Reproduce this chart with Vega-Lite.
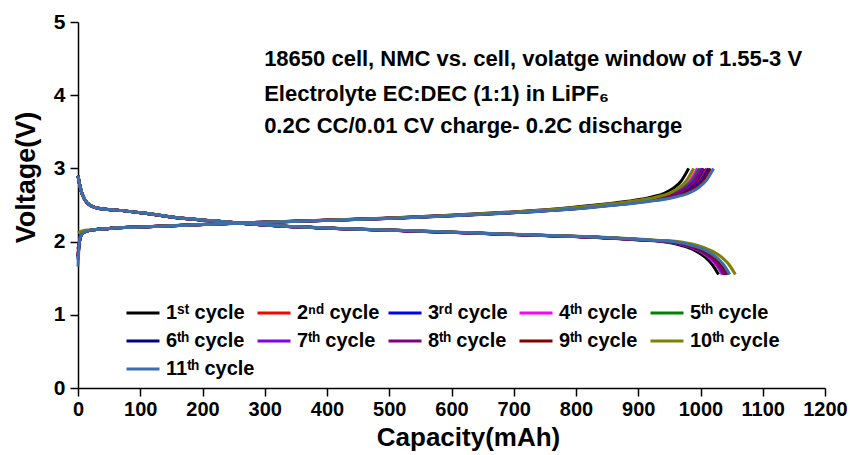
{
"$schema": "https://vega.github.io/schema/vega-lite/v6.json",
"width": 747, "height": 366,
"autosize": {"type": "none"},
"padding": {"left": 78, "top": 22, "right": 25, "bottom": 67},
"background": "white",
"config": {"view": {"stroke": null}, "font": "Liberation Sans",
  "axis": {"grid": false, "domain": true, "domainColor": "#000000", "domainWidth": 1.5, "ticks": true, "tickColor": "#000000", "tickWidth": 1.5, "tickSize": 8, "labelColor": "black", "titleColor": "black", "labelFont": "Liberation Sans", "titleFont": "Liberation Sans", "labelFontWeight": "bold", "titleFontWeight": "bold"}},
"data": {"values": [
{"n":1,"s":"c","x":0,"y":1.9},{"n":1,"s":"c","x":2,"y":1.98},{"n":1,"s":"c","x":3.9,"y":2.07},{"n":1,"s":"c","x":7.8,"y":2.12},{"n":1,"s":"c","x":19.6,"y":2.155},{"n":1,"s":"c","x":49.1,"y":2.18},{"n":1,"s":"c","x":98.1,"y":2.2},{"n":1,"s":"c","x":196.2,"y":2.235},{"n":1,"s":"c","x":294.3,"y":2.265},{"n":1,"s":"c","x":392.4,"y":2.29},{"n":1,"s":"c","x":490.5,"y":2.32},{"n":1,"s":"c","x":588.6,"y":2.355},{"n":1,"s":"c","x":686.7,"y":2.4},{"n":1,"s":"c","x":784.8,"y":2.46},{"n":1,"s":"c","x":843.7,"y":2.51},{"n":1,"s":"c","x":882.9,"y":2.55},{"n":1,"s":"c","x":922.1,"y":2.61},{"n":1,"s":"c","x":941.8,"y":2.66},{"n":1,"s":"c","x":956.5,"y":2.73},{"n":1,"s":"c","x":969.2,"y":2.83},{"n":1,"s":"c","x":981,"y":3},
{"n":1,"s":"d","x":0,"y":2.9},{"n":1,"s":"d","x":2.1,"y":2.8},{"n":1,"s":"d","x":5.1,"y":2.69},{"n":1,"s":"d","x":10.3,"y":2.58},{"n":1,"s":"d","x":20.6,"y":2.49},{"n":1,"s":"d","x":36,"y":2.45},{"n":1,"s":"d","x":61.7,"y":2.43},{"n":1,"s":"d","x":102.9,"y":2.39},{"n":1,"s":"d","x":154.4,"y":2.33},{"n":1,"s":"d","x":205.8,"y":2.29},{"n":1,"s":"d","x":308.7,"y":2.22},{"n":1,"s":"d","x":411.6,"y":2.18},{"n":1,"s":"d","x":514.5,"y":2.15},{"n":1,"s":"d","x":617.4,"y":2.12},{"n":1,"s":"d","x":720.3,"y":2.09},{"n":1,"s":"d","x":823.2,"y":2.06},{"n":1,"s":"d","x":905.5,"y":2.02},{"n":1,"s":"d","x":946.7,"y":1.99},{"n":1,"s":"d","x":972.4,"y":1.94},{"n":1,"s":"d","x":993,"y":1.87},{"n":1,"s":"d","x":1008.4,"y":1.78},{"n":1,"s":"d","x":1018.7,"y":1.69},{"n":1,"s":"d","x":1029,"y":1.55},
{"n":2,"s":"c","x":0,"y":1.8},{"n":2,"s":"c","x":2,"y":1.98},{"n":2,"s":"c","x":4,"y":2.07},{"n":2,"s":"c","x":8.1,"y":2.12},{"n":2,"s":"c","x":20.2,"y":2.155},{"n":2,"s":"c","x":50.5,"y":2.18},{"n":2,"s":"c","x":101,"y":2.2},{"n":2,"s":"c","x":202,"y":2.235},{"n":2,"s":"c","x":303,"y":2.265},{"n":2,"s":"c","x":404,"y":2.29},{"n":2,"s":"c","x":505,"y":2.32},{"n":2,"s":"c","x":606,"y":2.355},{"n":2,"s":"c","x":707,"y":2.4},{"n":2,"s":"c","x":808,"y":2.46},{"n":2,"s":"c","x":868.6,"y":2.51},{"n":2,"s":"c","x":909,"y":2.55},{"n":2,"s":"c","x":949.4,"y":2.61},{"n":2,"s":"c","x":969.6,"y":2.66},{"n":2,"s":"c","x":984.8,"y":2.73},{"n":2,"s":"c","x":997.9,"y":2.83},{"n":2,"s":"c","x":1010,"y":3},
{"n":2,"s":"d","x":0,"y":2.9},{"n":2,"s":"d","x":2.1,"y":2.8},{"n":2,"s":"d","x":5.2,"y":2.69},{"n":2,"s":"d","x":10.4,"y":2.58},{"n":2,"s":"d","x":20.8,"y":2.49},{"n":2,"s":"d","x":36.4,"y":2.45},{"n":2,"s":"d","x":62.4,"y":2.43},{"n":2,"s":"d","x":104,"y":2.39},{"n":2,"s":"d","x":156,"y":2.33},{"n":2,"s":"d","x":208,"y":2.29},{"n":2,"s":"d","x":312,"y":2.22},{"n":2,"s":"d","x":416,"y":2.18},{"n":2,"s":"d","x":520,"y":2.15},{"n":2,"s":"d","x":624,"y":2.12},{"n":2,"s":"d","x":728,"y":2.09},{"n":2,"s":"d","x":832,"y":2.06},{"n":2,"s":"d","x":915.2,"y":2.02},{"n":2,"s":"d","x":956.8,"y":1.99},{"n":2,"s":"d","x":982.8,"y":1.94},{"n":2,"s":"d","x":1003.6,"y":1.87},{"n":2,"s":"d","x":1019.2,"y":1.78},{"n":2,"s":"d","x":1029.6,"y":1.69},{"n":2,"s":"d","x":1040,"y":1.55},
{"n":3,"s":"c","x":0,"y":1.75},{"n":3,"s":"c","x":2,"y":1.98},{"n":3,"s":"c","x":4.1,"y":2.07},{"n":3,"s":"c","x":8.1,"y":2.12},{"n":3,"s":"c","x":20.3,"y":2.155},{"n":3,"s":"c","x":50.7,"y":2.18},{"n":3,"s":"c","x":101.3,"y":2.2},{"n":3,"s":"c","x":202.6,"y":2.235},{"n":3,"s":"c","x":303.9,"y":2.265},{"n":3,"s":"c","x":405.2,"y":2.29},{"n":3,"s":"c","x":506.5,"y":2.32},{"n":3,"s":"c","x":607.8,"y":2.355},{"n":3,"s":"c","x":709.1,"y":2.4},{"n":3,"s":"c","x":810.4,"y":2.46},{"n":3,"s":"c","x":871.2,"y":2.51},{"n":3,"s":"c","x":911.7,"y":2.55},{"n":3,"s":"c","x":952.2,"y":2.61},{"n":3,"s":"c","x":972.5,"y":2.66},{"n":3,"s":"c","x":987.7,"y":2.73},{"n":3,"s":"c","x":1000.8,"y":2.83},{"n":3,"s":"c","x":1013,"y":3},
{"n":3,"s":"d","x":0,"y":2.9},{"n":3,"s":"d","x":2.1,"y":2.8},{"n":3,"s":"d","x":5.2,"y":2.69},{"n":3,"s":"d","x":10.4,"y":2.58},{"n":3,"s":"d","x":20.8,"y":2.49},{"n":3,"s":"d","x":36.5,"y":2.45},{"n":3,"s":"d","x":62.5,"y":2.43},{"n":3,"s":"d","x":104.2,"y":2.39},{"n":3,"s":"d","x":156.3,"y":2.33},{"n":3,"s":"d","x":208.4,"y":2.29},{"n":3,"s":"d","x":312.6,"y":2.22},{"n":3,"s":"d","x":416.8,"y":2.18},{"n":3,"s":"d","x":521,"y":2.15},{"n":3,"s":"d","x":625.2,"y":2.12},{"n":3,"s":"d","x":729.4,"y":2.09},{"n":3,"s":"d","x":833.6,"y":2.06},{"n":3,"s":"d","x":917,"y":2.02},{"n":3,"s":"d","x":958.6,"y":1.99},{"n":3,"s":"d","x":984.7,"y":1.94},{"n":3,"s":"d","x":1005.5,"y":1.87},{"n":3,"s":"d","x":1021.2,"y":1.78},{"n":3,"s":"d","x":1031.6,"y":1.69},{"n":3,"s":"d","x":1042,"y":1.55},
{"n":4,"s":"c","x":0,"y":1.85},{"n":4,"s":"c","x":2,"y":1.98},{"n":4,"s":"c","x":4,"y":2.07},{"n":4,"s":"c","x":8,"y":2.12},{"n":4,"s":"c","x":19.9,"y":2.155},{"n":4,"s":"c","x":49.8,"y":2.18},{"n":4,"s":"c","x":99.5,"y":2.2},{"n":4,"s":"c","x":199,"y":2.235},{"n":4,"s":"c","x":298.5,"y":2.265},{"n":4,"s":"c","x":398,"y":2.29},{"n":4,"s":"c","x":497.5,"y":2.32},{"n":4,"s":"c","x":597,"y":2.355},{"n":4,"s":"c","x":696.5,"y":2.4},{"n":4,"s":"c","x":796,"y":2.46},{"n":4,"s":"c","x":855.7,"y":2.51},{"n":4,"s":"c","x":895.5,"y":2.55},{"n":4,"s":"c","x":935.3,"y":2.61},{"n":4,"s":"c","x":955.2,"y":2.66},{"n":4,"s":"c","x":970.1,"y":2.73},{"n":4,"s":"c","x":983.1,"y":2.83},{"n":4,"s":"c","x":995,"y":3},
{"n":4,"s":"d","x":0,"y":2.9},{"n":4,"s":"d","x":2.1,"y":2.8},{"n":4,"s":"d","x":5.2,"y":2.69},{"n":4,"s":"d","x":10.4,"y":2.58},{"n":4,"s":"d","x":20.7,"y":2.49},{"n":4,"s":"d","x":36.2,"y":2.45},{"n":4,"s":"d","x":62.1,"y":2.43},{"n":4,"s":"d","x":103.5,"y":2.39},{"n":4,"s":"d","x":155.3,"y":2.33},{"n":4,"s":"d","x":207,"y":2.29},{"n":4,"s":"d","x":310.5,"y":2.22},{"n":4,"s":"d","x":414,"y":2.18},{"n":4,"s":"d","x":517.5,"y":2.15},{"n":4,"s":"d","x":621,"y":2.12},{"n":4,"s":"d","x":724.5,"y":2.09},{"n":4,"s":"d","x":828,"y":2.06},{"n":4,"s":"d","x":910.8,"y":2.02},{"n":4,"s":"d","x":952.2,"y":1.99},{"n":4,"s":"d","x":978.1,"y":1.94},{"n":4,"s":"d","x":998.8,"y":1.87},{"n":4,"s":"d","x":1014.3,"y":1.78},{"n":4,"s":"d","x":1024.7,"y":1.69},{"n":4,"s":"d","x":1035,"y":1.55},
{"n":5,"s":"c","x":0,"y":1.8},{"n":5,"s":"c","x":2,"y":1.98},{"n":5,"s":"c","x":4,"y":2.07},{"n":5,"s":"c","x":8,"y":2.12},{"n":5,"s":"c","x":20,"y":2.155},{"n":5,"s":"c","x":49.9,"y":2.18},{"n":5,"s":"c","x":99.8,"y":2.2},{"n":5,"s":"c","x":199.6,"y":2.235},{"n":5,"s":"c","x":299.4,"y":2.265},{"n":5,"s":"c","x":399.2,"y":2.29},{"n":5,"s":"c","x":499,"y":2.32},{"n":5,"s":"c","x":598.8,"y":2.355},{"n":5,"s":"c","x":698.6,"y":2.4},{"n":5,"s":"c","x":798.4,"y":2.46},{"n":5,"s":"c","x":858.3,"y":2.51},{"n":5,"s":"c","x":898.2,"y":2.55},{"n":5,"s":"c","x":938.1,"y":2.61},{"n":5,"s":"c","x":958.1,"y":2.66},{"n":5,"s":"c","x":973.1,"y":2.73},{"n":5,"s":"c","x":986,"y":2.83},{"n":5,"s":"c","x":998,"y":3},
{"n":5,"s":"d","x":0,"y":2.9},{"n":5,"s":"d","x":2.1,"y":2.8},{"n":5,"s":"d","x":5.2,"y":2.69},{"n":5,"s":"d","x":10.4,"y":2.58},{"n":5,"s":"d","x":20.7,"y":2.49},{"n":5,"s":"d","x":36.3,"y":2.45},{"n":5,"s":"d","x":62.2,"y":2.43},{"n":5,"s":"d","x":103.7,"y":2.39},{"n":5,"s":"d","x":155.6,"y":2.33},{"n":5,"s":"d","x":207.4,"y":2.29},{"n":5,"s":"d","x":311.1,"y":2.22},{"n":5,"s":"d","x":414.8,"y":2.18},{"n":5,"s":"d","x":518.5,"y":2.15},{"n":5,"s":"d","x":622.2,"y":2.12},{"n":5,"s":"d","x":725.9,"y":2.09},{"n":5,"s":"d","x":829.6,"y":2.06},{"n":5,"s":"d","x":912.6,"y":2.02},{"n":5,"s":"d","x":954,"y":1.99},{"n":5,"s":"d","x":980,"y":1.94},{"n":5,"s":"d","x":1000.7,"y":1.87},{"n":5,"s":"d","x":1016.3,"y":1.78},{"n":5,"s":"d","x":1026.6,"y":1.69},{"n":5,"s":"d","x":1037,"y":1.55},
{"n":6,"s":"c","x":0,"y":1.78},{"n":6,"s":"c","x":2,"y":1.98},{"n":6,"s":"c","x":4,"y":2.07},{"n":6,"s":"c","x":8,"y":2.12},{"n":6,"s":"c","x":20.1,"y":2.155},{"n":6,"s":"c","x":50.3,"y":2.18},{"n":6,"s":"c","x":100.5,"y":2.2},{"n":6,"s":"c","x":201,"y":2.235},{"n":6,"s":"c","x":301.5,"y":2.265},{"n":6,"s":"c","x":402,"y":2.29},{"n":6,"s":"c","x":502.5,"y":2.32},{"n":6,"s":"c","x":603,"y":2.355},{"n":6,"s":"c","x":703.5,"y":2.4},{"n":6,"s":"c","x":804,"y":2.46},{"n":6,"s":"c","x":864.3,"y":2.51},{"n":6,"s":"c","x":904.5,"y":2.55},{"n":6,"s":"c","x":944.7,"y":2.61},{"n":6,"s":"c","x":964.8,"y":2.66},{"n":6,"s":"c","x":979.9,"y":2.73},{"n":6,"s":"c","x":992.9,"y":2.83},{"n":6,"s":"c","x":1005,"y":3},
{"n":6,"s":"d","x":0,"y":2.9},{"n":6,"s":"d","x":2.1,"y":2.8},{"n":6,"s":"d","x":5.2,"y":2.69},{"n":6,"s":"d","x":10.4,"y":2.58},{"n":6,"s":"d","x":20.8,"y":2.49},{"n":6,"s":"d","x":36.4,"y":2.45},{"n":6,"s":"d","x":62.4,"y":2.43},{"n":6,"s":"d","x":104,"y":2.39},{"n":6,"s":"d","x":156,"y":2.33},{"n":6,"s":"d","x":208,"y":2.29},{"n":6,"s":"d","x":312,"y":2.22},{"n":6,"s":"d","x":416,"y":2.18},{"n":6,"s":"d","x":520,"y":2.15},{"n":6,"s":"d","x":624,"y":2.12},{"n":6,"s":"d","x":728,"y":2.09},{"n":6,"s":"d","x":832,"y":2.06},{"n":6,"s":"d","x":915.2,"y":2.02},{"n":6,"s":"d","x":956.8,"y":1.99},{"n":6,"s":"d","x":982.8,"y":1.94},{"n":6,"s":"d","x":1003.6,"y":1.87},{"n":6,"s":"d","x":1019.2,"y":1.78},{"n":6,"s":"d","x":1029.6,"y":1.69},{"n":6,"s":"d","x":1040,"y":1.55},
{"n":7,"s":"c","x":0,"y":1.95},{"n":7,"s":"c","x":2,"y":1.98},{"n":7,"s":"c","x":4,"y":2.07},{"n":7,"s":"c","x":8,"y":2.12},{"n":7,"s":"c","x":20,"y":2.155},{"n":7,"s":"c","x":50.1,"y":2.18},{"n":7,"s":"c","x":100.1,"y":2.2},{"n":7,"s":"c","x":200.2,"y":2.235},{"n":7,"s":"c","x":300.3,"y":2.265},{"n":7,"s":"c","x":400.4,"y":2.29},{"n":7,"s":"c","x":500.5,"y":2.32},{"n":7,"s":"c","x":600.6,"y":2.355},{"n":7,"s":"c","x":700.7,"y":2.4},{"n":7,"s":"c","x":800.8,"y":2.46},{"n":7,"s":"c","x":860.9,"y":2.51},{"n":7,"s":"c","x":900.9,"y":2.55},{"n":7,"s":"c","x":940.9,"y":2.61},{"n":7,"s":"c","x":961,"y":2.66},{"n":7,"s":"c","x":976,"y":2.73},{"n":7,"s":"c","x":989,"y":2.83},{"n":7,"s":"c","x":1001,"y":3},
{"n":7,"s":"d","x":0,"y":2.9},{"n":7,"s":"d","x":2.1,"y":2.8},{"n":7,"s":"d","x":5.2,"y":2.69},{"n":7,"s":"d","x":10.4,"y":2.58},{"n":7,"s":"d","x":20.8,"y":2.49},{"n":7,"s":"d","x":36.3,"y":2.45},{"n":7,"s":"d","x":62.3,"y":2.43},{"n":7,"s":"d","x":103.8,"y":2.39},{"n":7,"s":"d","x":155.7,"y":2.33},{"n":7,"s":"d","x":207.6,"y":2.29},{"n":7,"s":"d","x":311.4,"y":2.22},{"n":7,"s":"d","x":415.2,"y":2.18},{"n":7,"s":"d","x":519,"y":2.15},{"n":7,"s":"d","x":622.8,"y":2.12},{"n":7,"s":"d","x":726.6,"y":2.09},{"n":7,"s":"d","x":830.4,"y":2.06},{"n":7,"s":"d","x":913.4,"y":2.02},{"n":7,"s":"d","x":955,"y":1.99},{"n":7,"s":"d","x":980.9,"y":1.94},{"n":7,"s":"d","x":1001.7,"y":1.87},{"n":7,"s":"d","x":1017.2,"y":1.78},{"n":7,"s":"d","x":1027.6,"y":1.69},{"n":7,"s":"d","x":1038,"y":1.55},
{"n":8,"s":"c","x":0,"y":1.9},{"n":8,"s":"c","x":2,"y":1.98},{"n":8,"s":"c","x":4,"y":2.07},{"n":8,"s":"c","x":8,"y":2.12},{"n":8,"s":"c","x":20.1,"y":2.155},{"n":8,"s":"c","x":50.2,"y":2.18},{"n":8,"s":"c","x":100.3,"y":2.2},{"n":8,"s":"c","x":200.6,"y":2.235},{"n":8,"s":"c","x":300.9,"y":2.265},{"n":8,"s":"c","x":401.2,"y":2.29},{"n":8,"s":"c","x":501.5,"y":2.32},{"n":8,"s":"c","x":601.8,"y":2.355},{"n":8,"s":"c","x":702.1,"y":2.4},{"n":8,"s":"c","x":802.4,"y":2.46},{"n":8,"s":"c","x":862.6,"y":2.51},{"n":8,"s":"c","x":902.7,"y":2.55},{"n":8,"s":"c","x":942.8,"y":2.61},{"n":8,"s":"c","x":962.9,"y":2.66},{"n":8,"s":"c","x":977.9,"y":2.73},{"n":8,"s":"c","x":991,"y":2.83},{"n":8,"s":"c","x":1003,"y":3},
{"n":8,"s":"d","x":0,"y":2.9},{"n":8,"s":"d","x":2.1,"y":2.8},{"n":8,"s":"d","x":5.2,"y":2.69},{"n":8,"s":"d","x":10.4,"y":2.58},{"n":8,"s":"d","x":20.8,"y":2.49},{"n":8,"s":"d","x":36.4,"y":2.45},{"n":8,"s":"d","x":62.3,"y":2.43},{"n":8,"s":"d","x":103.9,"y":2.39},{"n":8,"s":"d","x":155.9,"y":2.33},{"n":8,"s":"d","x":207.8,"y":2.29},{"n":8,"s":"d","x":311.7,"y":2.22},{"n":8,"s":"d","x":415.6,"y":2.18},{"n":8,"s":"d","x":519.5,"y":2.15},{"n":8,"s":"d","x":623.4,"y":2.12},{"n":8,"s":"d","x":727.3,"y":2.09},{"n":8,"s":"d","x":831.2,"y":2.06},{"n":8,"s":"d","x":914.3,"y":2.02},{"n":8,"s":"d","x":955.9,"y":1.99},{"n":8,"s":"d","x":981.9,"y":1.94},{"n":8,"s":"d","x":1002.6,"y":1.87},{"n":8,"s":"d","x":1018.2,"y":1.78},{"n":8,"s":"d","x":1028.6,"y":1.69},{"n":8,"s":"d","x":1039,"y":1.55},
{"n":9,"s":"c","x":0,"y":1.8},{"n":9,"s":"c","x":2,"y":1.98},{"n":9,"s":"c","x":4.1,"y":2.07},{"n":9,"s":"c","x":8.1,"y":2.12},{"n":9,"s":"c","x":20.3,"y":2.155},{"n":9,"s":"c","x":50.8,"y":2.18},{"n":9,"s":"c","x":101.6,"y":2.2},{"n":9,"s":"c","x":203.2,"y":2.235},{"n":9,"s":"c","x":304.8,"y":2.265},{"n":9,"s":"c","x":406.4,"y":2.29},{"n":9,"s":"c","x":508,"y":2.32},{"n":9,"s":"c","x":609.6,"y":2.355},{"n":9,"s":"c","x":711.2,"y":2.4},{"n":9,"s":"c","x":812.8,"y":2.46},{"n":9,"s":"c","x":873.8,"y":2.51},{"n":9,"s":"c","x":914.4,"y":2.55},{"n":9,"s":"c","x":955,"y":2.61},{"n":9,"s":"c","x":975.4,"y":2.66},{"n":9,"s":"c","x":990.6,"y":2.73},{"n":9,"s":"c","x":1003.8,"y":2.83},{"n":9,"s":"c","x":1016,"y":3},
{"n":9,"s":"d","x":0,"y":2.9},{"n":9,"s":"d","x":2.1,"y":2.8},{"n":9,"s":"d","x":5.2,"y":2.69},{"n":9,"s":"d","x":10.4,"y":2.58},{"n":9,"s":"d","x":20.9,"y":2.49},{"n":9,"s":"d","x":36.5,"y":2.45},{"n":9,"s":"d","x":62.6,"y":2.43},{"n":9,"s":"d","x":104.4,"y":2.39},{"n":9,"s":"d","x":156.6,"y":2.33},{"n":9,"s":"d","x":208.8,"y":2.29},{"n":9,"s":"d","x":313.2,"y":2.22},{"n":9,"s":"d","x":417.6,"y":2.18},{"n":9,"s":"d","x":522,"y":2.15},{"n":9,"s":"d","x":626.4,"y":2.12},{"n":9,"s":"d","x":730.8,"y":2.09},{"n":9,"s":"d","x":835.2,"y":2.06},{"n":9,"s":"d","x":918.7,"y":2.02},{"n":9,"s":"d","x":960.5,"y":1.99},{"n":9,"s":"d","x":986.6,"y":1.94},{"n":9,"s":"d","x":1007.5,"y":1.87},{"n":9,"s":"d","x":1023.1,"y":1.78},{"n":9,"s":"d","x":1033.6,"y":1.69},{"n":9,"s":"d","x":1044,"y":1.55},
{"n":10,"s":"c","x":0,"y":2.12},{"n":10,"s":"c","x":2,"y":2.13},{"n":10,"s":"c","x":4,"y":2.14},{"n":10,"s":"c","x":7.9,"y":2.15},{"n":10,"s":"c","x":19.8,"y":2.16},{"n":10,"s":"c","x":49.5,"y":2.18},{"n":10,"s":"c","x":98.9,"y":2.2},{"n":10,"s":"c","x":197.8,"y":2.235},{"n":10,"s":"c","x":296.7,"y":2.265},{"n":10,"s":"c","x":395.6,"y":2.29},{"n":10,"s":"c","x":494.5,"y":2.32},{"n":10,"s":"c","x":593.4,"y":2.355},{"n":10,"s":"c","x":692.3,"y":2.4},{"n":10,"s":"c","x":791.2,"y":2.46},{"n":10,"s":"c","x":850.5,"y":2.51},{"n":10,"s":"c","x":890.1,"y":2.55},{"n":10,"s":"c","x":929.7,"y":2.61},{"n":10,"s":"c","x":949.4,"y":2.66},{"n":10,"s":"c","x":964.3,"y":2.73},{"n":10,"s":"c","x":977.1,"y":2.83},{"n":10,"s":"c","x":989,"y":3},
{"n":10,"s":"d","x":0,"y":2.9},{"n":10,"s":"d","x":2.1,"y":2.8},{"n":10,"s":"d","x":5.3,"y":2.69},{"n":10,"s":"d","x":10.6,"y":2.58},{"n":10,"s":"d","x":21.1,"y":2.49},{"n":10,"s":"d","x":37,"y":2.45},{"n":10,"s":"d","x":63.4,"y":2.43},{"n":10,"s":"d","x":105.6,"y":2.39},{"n":10,"s":"d","x":158.4,"y":2.33},{"n":10,"s":"d","x":211.2,"y":2.29},{"n":10,"s":"d","x":316.8,"y":2.22},{"n":10,"s":"d","x":422.4,"y":2.18},{"n":10,"s":"d","x":528,"y":2.15},{"n":10,"s":"d","x":633.6,"y":2.12},{"n":10,"s":"d","x":739.2,"y":2.09},{"n":10,"s":"d","x":844.8,"y":2.06},{"n":10,"s":"d","x":929.3,"y":2.02},{"n":10,"s":"d","x":971.5,"y":1.99},{"n":10,"s":"d","x":997.9,"y":1.94},{"n":10,"s":"d","x":1019,"y":1.87},{"n":10,"s":"d","x":1034.9,"y":1.78},{"n":10,"s":"d","x":1045.4,"y":1.69},{"n":10,"s":"d","x":1056,"y":1.55},
{"n":11,"s":"c","x":0,"y":1.66},{"n":11,"s":"c","x":2,"y":1.98},{"n":11,"s":"c","x":4.1,"y":2.07},{"n":11,"s":"c","x":8.2,"y":2.12},{"n":11,"s":"c","x":20.4,"y":2.155},{"n":11,"s":"c","x":51.1,"y":2.18},{"n":11,"s":"c","x":102.1,"y":2.2},{"n":11,"s":"c","x":204.2,"y":2.235},{"n":11,"s":"c","x":306.3,"y":2.265},{"n":11,"s":"c","x":408.4,"y":2.29},{"n":11,"s":"c","x":510.5,"y":2.32},{"n":11,"s":"c","x":612.6,"y":2.355},{"n":11,"s":"c","x":714.7,"y":2.4},{"n":11,"s":"c","x":816.8,"y":2.46},{"n":11,"s":"c","x":878.1,"y":2.51},{"n":11,"s":"c","x":918.9,"y":2.55},{"n":11,"s":"c","x":959.7,"y":2.61},{"n":11,"s":"c","x":980.2,"y":2.66},{"n":11,"s":"c","x":995.5,"y":2.73},{"n":11,"s":"c","x":1008.7,"y":2.83},{"n":11,"s":"c","x":1021,"y":3},
{"n":11,"s":"d","x":0,"y":2.9},{"n":11,"s":"d","x":2.1,"y":2.8},{"n":11,"s":"d","x":5.2,"y":2.69},{"n":11,"s":"d","x":10.5,"y":2.58},{"n":11,"s":"d","x":20.9,"y":2.49},{"n":11,"s":"d","x":36.6,"y":2.45},{"n":11,"s":"d","x":62.8,"y":2.43},{"n":11,"s":"d","x":104.7,"y":2.39},{"n":11,"s":"d","x":157.1,"y":2.33},{"n":11,"s":"d","x":209.4,"y":2.29},{"n":11,"s":"d","x":314.1,"y":2.22},{"n":11,"s":"d","x":418.8,"y":2.18},{"n":11,"s":"d","x":523.5,"y":2.15},{"n":11,"s":"d","x":628.2,"y":2.12},{"n":11,"s":"d","x":732.9,"y":2.09},{"n":11,"s":"d","x":837.6,"y":2.06},{"n":11,"s":"d","x":921.4,"y":2.02},{"n":11,"s":"d","x":963.2,"y":1.99},{"n":11,"s":"d","x":989.4,"y":1.94},{"n":11,"s":"d","x":1010.4,"y":1.87},{"n":11,"s":"d","x":1026.1,"y":1.78},{"n":11,"s":"d","x":1036.5,"y":1.69},{"n":11,"s":"d","x":1047,"y":1.55}
]},
"layer": [
{"mark": {"type": "line", "strokeWidth": 3, "interpolate": "monotone"},
 "encoding": {
  "x": {"field": "x", "type": "quantitative", "title": "Capacity(mAh)",
    "scale": {"domain": [0, 1200], "nice": false},
    "axis": {"values": [0,50,100,150,200,250,300,350,400,450,500,550,600,650,700,750,800,850,900,950,1000,1050,1100,1150,1200],
      "ticks": true, "tickSize": 8, "tickWidth": 1.5, "tickColor": "black",
      "labelExpr": "datum.value % 100 === 0 ? format(datum.value, 'd') : ''",
      "labelPadding": 3, "labelFontSize": 20, "labelOverlap": false, "labelFlush": false, "labelBound": false,
      "titleFontSize": 26, "titleX": 390, "titleY": 49, "titleBaseline": "middle", "titleAlign": "center"}},
  "y": {"field": "y", "type": "quantitative", "title": "Voltage(V)",
    "scale": {"domain": [0, 5], "nice": false},
    "axis": {"values": [0,0.5,1,1.5,2,2.5,3,3.5,4,4.5,5],
      "ticks": true, "tickSize": 8, "tickWidth": 1.5, "tickColor": "black",
      "labelExpr": "datum.value % 1 === 0 ? format(datum.value, 'd') : ''",
      "labelPadding": 5, "labelFontSize": 21, "labelOverlap": false, "labelFlush": false, "labelBound": false,
      "titleFontSize": 27, "titleX": -52, "titleY": 155, "titleBaseline": "middle", "titleAlign": "center", "titleAngle": 270}},
  "color": {"field": "n", "type": "nominal",
    "scale": {"domain": [1,2,3,4,5,6,7,8,9,10,11], "range": ["#000000","#FF0000","#0000FF","#FF00FF","#008000","#000080","#8000FF","#800080","#800000","#808000","#3B6EB0"]},
    "legend": {"orient": "none", "legendX": 47, "legendY": 273, "columns": 5, "direction": "horizontal", "title": null,
      "symbolType": "stroke", "symbolSize": 1089, "symbolStrokeWidth": 3, "labelFontSize": 20, "labelFontWeight": "bold", "labelFont": "Liberation Sans", "labelColor": "black",
      "labelOffset": 5, "columnPadding": -17, "rowPadding": -18, "padding": 0, "gridAlign": "all", "labelLimit": 300,
      "labelExpr": "['','1ˢᵗ cycle','2ⁿᵈ cycle','3ʳᵈ cycle','4ᵗʰ cycle','5ᵗʰ cycle','6ᵗʰ cycle','7ᵗʰ cycle','8ᵗʰ cycle','9ᵗʰ cycle','10ᵗʰ cycle','11ᵗʰ cycle'][+datum.value]"}},
  "detail": {"field": "s"}
 }},
{"data": {"values": [{}]},
 "mark": {"type": "text", "text": "18650 cell, NMC vs. cell, volatge window of 1.55-3 V", "align": "left", "baseline": "middle", "fontSize": 22, "fontWeight": "bold", "font": "Liberation Sans", "color": "black"},
 "encoding": {"x": {"datum": 299, "type": "quantitative", "title": "Capacity(mAh)"}, "y": {"datum": 4.5, "type": "quantitative", "title": "Voltage(V)"}}},
{"data": {"values": [{}]},
 "mark": {"type": "text", "text": "Electrolyte EC:DEC (1:1) in LiPF₆", "align": "left", "baseline": "middle", "fontSize": 22, "fontWeight": "bold", "font": "Liberation Sans", "color": "black"},
 "encoding": {"x": {"datum": 299, "type": "quantitative", "title": "Capacity(mAh)"}, "y": {"datum": 4.02, "type": "quantitative", "title": "Voltage(V)"}}},
{"data": {"values": [{}]},
 "mark": {"type": "text", "text": "0.2C CC/0.01 CV charge- 0.2C discharge", "align": "left", "baseline": "middle", "fontSize": 22, "fontWeight": "bold", "font": "Liberation Sans", "color": "black"},
 "encoding": {"x": {"datum": 299, "type": "quantitative", "title": "Capacity(mAh)"}, "y": {"datum": 3.58, "type": "quantitative", "title": "Voltage(V)"}}}
]
}
